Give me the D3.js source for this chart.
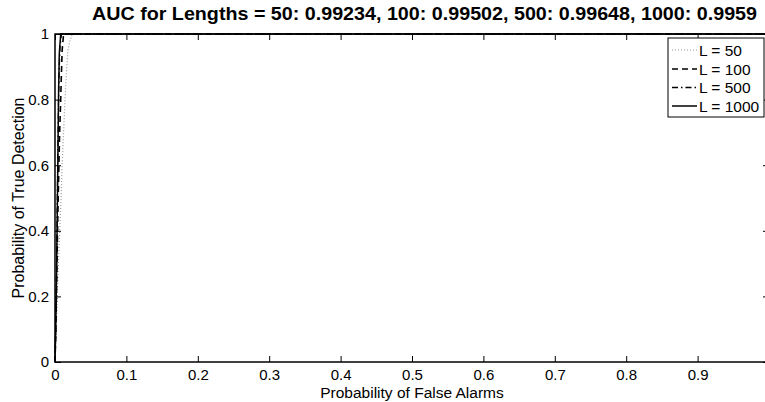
<!DOCTYPE html>
<html>
<head>
<meta charset="utf-8">
<script src="https://cdn.jsdelivr.net/npm/d3@7"></script>
<style>
  html, body { margin: 0; padding: 0; background: #fff; }
  svg { display: block; font-family: "Liberation Sans", Arial, Helvetica, sans-serif; }
</style>
</head>
<body>
<svg id="chart" width="765" height="402"></svg>
<script>
// ROC curves (false-alarm probability vs. true-detection probability) per sequence length
const lengths = [50, 100, 500, 1000];
const aucValues = ["0.99234", "0.99502", "0.99648", "0.9959"];

const fprL50   = [0, 0.001, 0.0025, 0.004, 0.0066, 0.0085, 0.010, 0.012, 0.014, 0.016, 0.018, 0.021, 0.024, 1];
const tprL50   = [0, 0.06, 0.15, 0.26, 0.40, 0.50, 0.60, 0.70, 0.80, 0.88, 0.95, 0.98, 1, 1];

const fprL100  = [0, 0.001, 0.002, 0.003, 0.004, 0.0055, 0.0065, 0.008, 0.009, 0.010, 0.012, 1];
const tprL100  = [0, 0.08, 0.20, 0.33, 0.45, 0.60, 0.70, 0.80, 0.88, 0.95, 1, 1];

const fprL500  = [0, 0.001, 0.002, 0.003, 0.004, 0.005, 0.006, 0.007, 0.009, 1];
const tprL500  = [0, 0.10, 0.26, 0.45, 0.64, 0.80, 0.90, 0.96, 1, 1];

const fprL1000 = [0, 0.001, 0.002, 0.003, 0.004, 0.005, 0.006, 0.008, 1];
const tprL1000 = [0, 0.10, 0.24, 0.42, 0.62, 0.82, 0.94, 1, 1];

const xTicks = [0, 0.1, 0.2, 0.3, 0.4, 0.5, 0.6, 0.7, 0.8, 0.9];
const yTicks = [0, 0.2, 0.4, 0.6, 0.8, 1];

const series = [
  { name: "L = 50",   fpr: fprL50,   tpr: tprL50,   stroke: "#9a9a9a", dash: "1,2",       width: 1.2 },
  { name: "L = 100",  fpr: fprL100,  tpr: tprL100,  stroke: "#000",    dash: "6,4",       width: 1.6 },
  { name: "L = 500",  fpr: fprL500,  tpr: tprL500,  stroke: "#000",    dash: "6,3,1.5,3", width: 1.3 },
  { name: "L = 1000", fpr: fprL1000, tpr: tprL1000, stroke: "#000",    dash: null,        width: 1.5 }
];

const svg = d3.select("#chart");
const plotLeft = 55, plotRight = 769, plotTop = 34, plotBottom = 362;

const x = d3.scaleLinear().domain([0, 1]).range([plotLeft, plotRight]);
const y = d3.scaleLinear().domain([0, 1]).range([plotBottom, plotTop]);

const fmt = d => d === 0 ? "0" : d === 1 ? "1" : d3.format(".1f")(d);

// axes with inward ticks on all four sides
const axB = svg.append("g").attr("transform", `translate(0,${plotBottom})`)
  .call(d3.axisBottom(x).tickValues(xTicks).tickSizeInner(-6).tickSizeOuter(0).tickPadding(7).tickFormat(fmt));
const axT = svg.append("g").attr("transform", `translate(0,${plotTop})`)
  .call(d3.axisTop(x).tickValues(xTicks).tickSizeInner(-6).tickSizeOuter(0).tickFormat(""));
const axL = svg.append("g").attr("transform", `translate(${plotLeft},0)`)
  .call(d3.axisLeft(y).tickValues(yTicks).tickSizeInner(-6).tickSizeOuter(0).tickPadding(6).tickFormat(fmt));
const axR = svg.append("g").attr("transform", `translate(${plotRight},0)`)
  .call(d3.axisRight(y).tickValues(yTicks).tickSizeInner(-6).tickSizeOuter(0).tickFormat(""));

[axB, axT, axL, axR].forEach(g => {
  g.select(".domain").remove();
  g.selectAll(".tick line").attr("stroke", "#000").attr("stroke-width", 1);
  g.selectAll("text").attr("fill", "#000").attr("font-size", 15)
    .attr("font-family", "'Liberation Sans', Arial, sans-serif");
});
axB.selectAll("text").attr("dy", "0.71em");

// axes box
svg.append("rect")
  .attr("x", plotLeft).attr("y", plotTop)
  .attr("width", plotRight - plotLeft).attr("height", plotBottom - plotTop)
  .attr("fill", "none").attr("stroke", "#000").attr("stroke-width", 1.5);

// ROC curves
const line = d3.line().x(d => x(d[0])).y(d => y(d[1]));
svg.append("g").selectAll("path")
  .data(series).join("path")
  .attr("d", s => line(s.fpr.map((f, i) => [f, s.tpr[i]])))
  .attr("fill", "none")
  .attr("stroke", s => s.stroke)
  .attr("stroke-width", s => s.width)
  .attr("stroke-dasharray", s => s.dash);

// title
const titleText = "AUC for Lengths = " + lengths.map((l, i) => `${l}: ${aucValues[i]}`).join(", ");
svg.append("text")
  .attr("x", 92).attr("y", 19.5)
  .attr("font-size", 18).attr("font-weight", "bold")
  .attr("textLength", 665).attr("lengthAdjust", "spacingAndGlyphs")
  .text(titleText);

// axis labels
svg.append("text")
  .attr("x", 412).attr("y", 397.5)
  .attr("text-anchor", "middle").attr("font-size", 15.5)
  .text("Probability of False Alarms");
svg.append("text")
  .attr("transform", "translate(23.5,198) rotate(-90)")
  .attr("text-anchor", "middle").attr("font-size", 16)
  .text("Probability of True Detection");

// legend
const lg = svg.append("g");
lg.append("rect")
  .attr("x", 668).attr("y", 38).attr("width", 96).attr("height", 79)
  .attr("fill", "#fff").attr("stroke", "#000").attr("stroke-width", 1);
const rowY = [50, 69, 87.5, 106];
series.forEach((s, i) => {
  lg.append("line")
    .attr("x1", 672).attr("x2", 697).attr("y1", rowY[i]).attr("y2", rowY[i])
    .attr("stroke", s.stroke).attr("stroke-width", s.width)
    .attr("stroke-dasharray", s.dash);
  lg.append("text")
    .attr("x", 699).attr("y", rowY[i]).attr("dy", "0.36em")
    .attr("font-size", 15.5)
    .text(s.name);
});
</script>
</body>
</html>
